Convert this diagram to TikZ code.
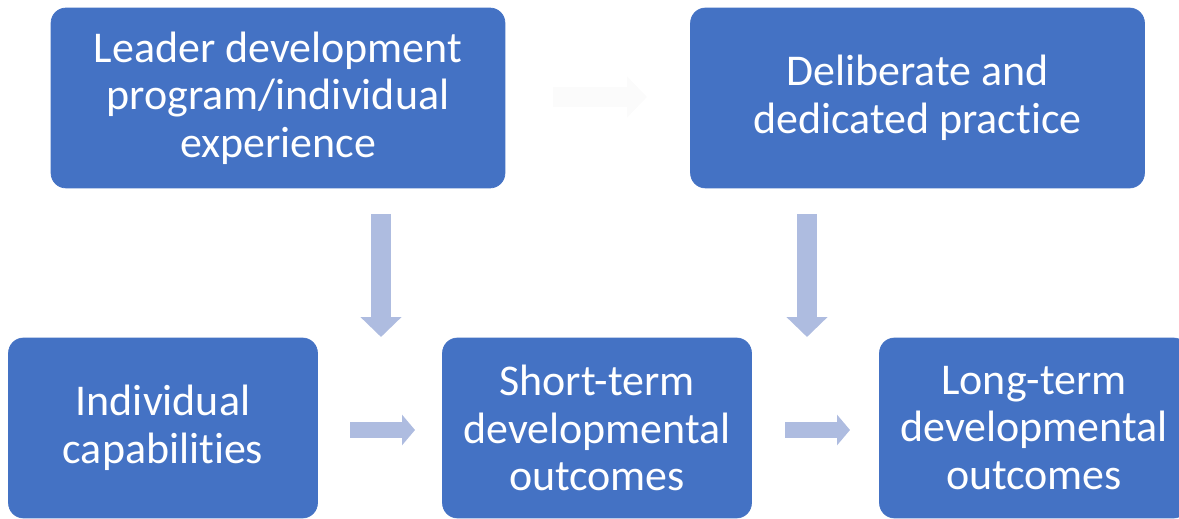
\documentclass[tikz,border=0pt]{standalone}
\usepackage{fontspec}
\setmainfont{Carlito}[Ligatures=NoCommon]
\usepackage{xcolor}
\usetikzlibrary{arrows.meta}
\definecolor{boxblu}{HTML}{4472C4}
\definecolor{frecciablu}{HTML}{AEBCE0}
\definecolor{frecciachiara}{HTML}{FBFBFB}
\tikzset{
    blocco/.style={fill=boxblu, draw=boxblu, rounded corners=0.3cm, text=white,
        align=center, font=\fontsize{25}{27}\selectfont, inner sep=0pt},
    grande/.style={blocco, minimum width=9.08cm, minimum height=3.6cm},
    piccolo/.style={blocco, minimum width=6.18cm, minimum height=3.6cm}
}

\begin{document}
\begin{tikzpicture}[x=0.02cm, y=-0.02cm]
        \useasboundingbox (0,0) rectangle (1179,519);
        % Blocchi in alto
        \node[grande] (programma) at (278,98) {Leader development\\program/individual\\experience};
        \node[grande] (pratica) at (917.5,98) {Deliberate and\\dedicated practice};
        % Blocchi in basso
        \node[piccolo] (capacita) at (163,428) {Individual\\capabilities};
        \node[piccolo] (breve) at (597,428) {Short-term\\developmental\\outcomes};
        \node[piccolo] (lungo) at (1034,428) {Long-term\\developmental\\outcomes};

        % Estremi delle frecce
        \coordinate (a1) at (381,214);
        \coordinate (a2) at (381,337);
        \coordinate (b1) at (807,214);
        \coordinate (b2) at (807,337);
        \coordinate (c1) at (350,430);
        \coordinate (c2) at (415,430);
        \coordinate (d1) at (785,430);
        \coordinate (d2) at (850,430);
        \coordinate (e1) at (553,97);
        \coordinate (e2) at (647,97);

        % Frecce
        \draw[frecciablu, line width=0.4cm, -{Triangle[width=0.8cm, length=0.4cm]}] (a1) -- (a2);
        \draw[frecciablu, line width=0.4cm, -{Triangle[width=0.8cm, length=0.4cm]}] (b1) -- (b2);
        \draw[frecciablu, line width=0.32cm, -{Triangle[width=0.6cm, length=0.26cm]}] (c1) -- (c2);
        \draw[frecciablu, line width=0.32cm, -{Triangle[width=0.6cm, length=0.26cm]}] (d1) -- (d2);
        \draw[frecciachiara, line width=0.4cm, -{Triangle[width=0.8cm, length=0.4cm]}] (e1) -- (e2);
    \end{tikzpicture}
\end{document}
